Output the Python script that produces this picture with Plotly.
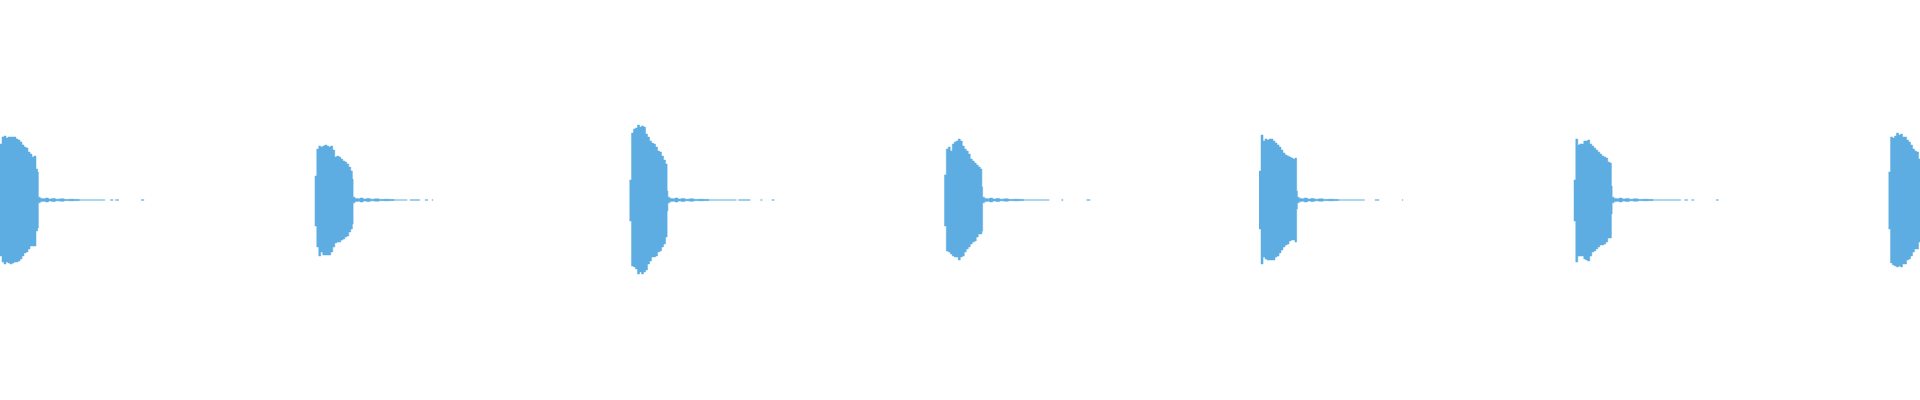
import plotly.graph_objects as go

# click onsets (seconds), one every half second
ONSETS = [0.0, 0.5, 1.0, 1.5, 2.0, 2.5, 3.0]

# envelope sample offsets inside a click (ms)
ENV_MS = [0, 3.2, 6.4, 9.5, 12.7, 15.9, 19.1, 22.2, 25.4, 28.6,
          31.8, 34.9, 38.1, 41.3, 44.5, 47.7, 50.8, 54.0, 57.2, 59.8]

# positive / negative peak amplitude per click (full scale = 1)
TOP_1 = [.280, .315, .320, .310, .315, .315, .315, .315, .305, .300,
         .290, .275, .265, .260, .240, .230, .215, .220, .155, .140]
BOT_1 = [.280, .310, .320, .310, .315, .320, .315, .310, .310, .305,
         .295, .280, .265, .260, .245, .230, .230, .230, .155, .140]
TOP_2 = [.120, .255, .270, .265, .270, .275, .270, .265, .270, .250,
         .215, .220, .215, .205, .195, .190, .180, .165, .145, .105]
BOT_2 = [.130, .235, .280, .260, .275, .275, .275, .275, .260, .235,
         .215, .210, .210, .200, .195, .185, .180, .160, .145, .120]
TOP_3 = [.100, .335, .355, .360, .375, .365, .370, .365, .330, .315,
         .295, .285, .280, .265, .245, .240, .220, .200, .180, .045]
BOT_3 = [.105, .330, .335, .345, .370, .360, .370, .360, .350, .320,
         .305, .285, .285, .280, .260, .255, .235, .220, .185, .055]
TOP_4 = [.125, .255, .265, .245, .280, .290, .295, .305, .295, .270,
         .255, .245, .230, .205, .195, .185, .175, .165, .155, .065]
BOT_4 = [.130, .255, .260, .270, .280, .285, .285, .300, .285, .280,
         .260, .245, .235, .220, .210, .205, .185, .170, .170, .155]
TOP_5 = [.145, .325, .295, .305, .300, .305, .305, .295, .285, .275,
         .265, .250, .235, .225, .220, .215, .210, .205, .210, .045]
BOT_5 = [.145, .320, .285, .295, .300, .300, .300, .300, .285, .280,
         .265, .250, .235, .225, .220, .205, .200, .200, .210, .045]
TOP_6 = [.100, .305, .275, .280, .280, .295, .295, .300, .280, .270,
         .260, .250, .240, .230, .220, .215, .210, .190, .185, .070]
BOT_6 = [.105, .310, .280, .280, .280, .295, .300, .305, .280, .260,
         .255, .245, .235, .225, .225, .220, .210, .190, .190, .070]
TOP_7 = [.140, .315, .310, .320, .335, .325, .330, .315, .315, .300,
         .290, .275, .255, .245, .240, .205, .200, .185, .175, .060]
BOT_7 = [.145, .315, .325, .330, .335, .330, .335, .320, .320, .300,
         .295, .280, .260, .245, .245, .210, .200, .185, .175, .060]

TOPS = [TOP_1, TOP_2, TOP_3, TOP_4, TOP_5, TOP_6, TOP_7]
BOTS = [BOT_1, BOT_2, BOT_3, BOT_4, BOT_5, BOT_6, BOT_7]

# low ripple right after each click (ms, amplitude)
TAIL_MS = [61, 64, 68, 72, 77, 82, 88, 95, 102, 110, 118, 125, 126]
TAIL_AMP = [.014, .008, .006, .010, .005, .008, .004, .006, .003, .004,
            .003, .002, 0]

# near-silent decay, visible only as short runs on the zero line (ms)
DECAY_RUNS = [
    [(60, 167), (175, 180), (183, 189), (224, 229)],
    [(60, 147), (151, 167), (175, 180), (186, 188)],
    [(60, 170), (173, 192), (208, 211), (226, 230)],
    [(60, 167), (186, 189), (226, 232)],
    [(60, 168), (184, 191), (227, 229)],
    [(60, 170), (176, 181), (187, 191), (226, 230)],
    [],
]

COLOR = "#5DADE2"

fig = go.Figure()

for onset, top, bot in zip(ONSETS, TOPS, BOTS):
    xs = [onset + ms / 1000 for ms in ENV_MS + TAIL_MS]
    up = top + TAIL_AMP
    down = [-v for v in bot + TAIL_AMP]
    for ys in (up, down):
        fig.add_trace(go.Scatter(
            x=xs, y=ys, mode="lines", line_shape="hv",
            line=dict(color=COLOR, width=0.5),
            fill="tozeroy", fillcolor=COLOR,
            hoverinfo="skip", showlegend=False,
        ))

# the decay runs drawn as one broken line
run_x, run_y = [], []
for onset, runs in zip(ONSETS, DECAY_RUNS):
    for start, end in runs:
        run_x += [onset + start / 1000, onset + end / 1000, None]
        run_y += [0, 0, None]

fig.add_trace(go.Scatter(
    x=run_x, y=run_y, mode="lines",
    line=dict(color=COLOR, width=1.2),
    hoverinfo="skip", showlegend=False,
))

fig.update_layout(
    width=1920,
    height=400,
    margin=dict(l=0, r=0, t=0, b=0),
    paper_bgcolor="white",
    plot_bgcolor="white",
    xaxis=dict(range=[0, 3.05], visible=False, fixedrange=True),
    yaxis=dict(range=[-1, 1], visible=False, fixedrange=True),
)

# drop the page's default body margin so the chart sits at the top-left corner
fig.write_html(
    "out.html",
    config={"displayModeBar": False},
    post_script="document.body.style.margin='0';document.body.style.overflow='hidden';",
)
